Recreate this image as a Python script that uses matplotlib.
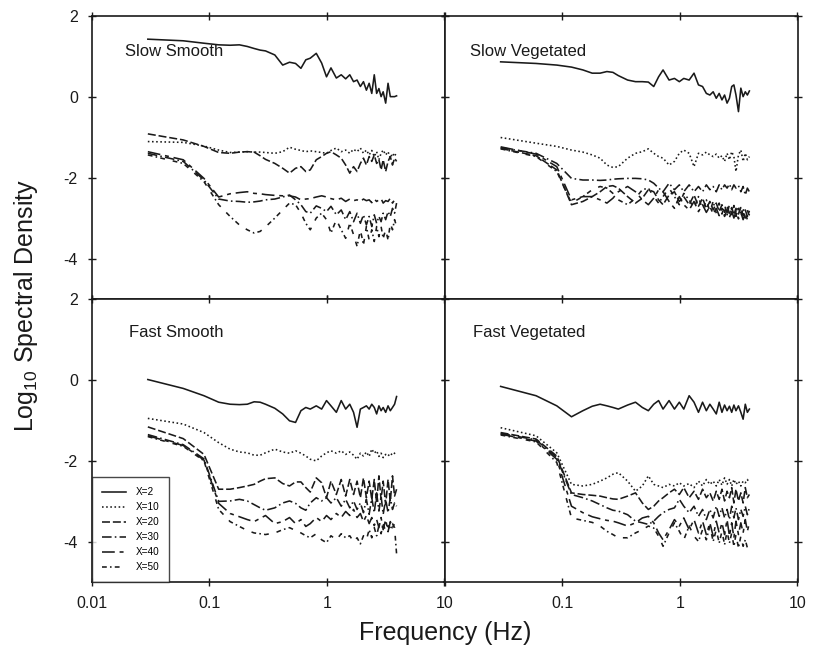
import numpy as np
import matplotlib
matplotlib.use("Agg")
from matplotlib import pyplot as plt

plt.rcParams['font.family'] = ['Liberation Sans', 'DejaVu Sans']
plt.rcParams['mathtext.fontset'] = 'custom'
plt.rcParams['mathtext.rm'] = 'Liberation Sans'

# frequencies (Hz) where the spectra were read
freq = [0.03, 0.06, 0.09, 0.12, 0.15, 0.18, 0.21, 0.24, 0.27, 0.30,
        0.36, 0.42, 0.48, 0.54, 0.60, 0.66, 0.72, 0.81, 0.90, 0.99,
        1.08, 1.20, 1.32, 1.44, 1.56, 1.68, 1.80, 1.92, 2.04, 2.16,
        2.28, 2.40, 2.52, 2.64, 2.76, 2.88, 3.00, 3.15, 3.30, 3.45,
        3.60, 3.75, 3.90]

labels = ["X=2", "X=10", "X=20", "X=30", "X=40", "X=50"]
titles = ["Slow Smooth", "Slow Vegetated", "Fast Smooth", "Fast Vegetated"]

# ---- Slow Smooth ----
ss_x2 = [1.42, 1.38, 1.32, 1.28, 1.27, 1.28, 1.24, 1.19, 1.15, 1.13,
         1.03, 0.78, 0.85, 0.82, 0.70, 0.91, 0.95, 1.07, 0.83, 0.49,
         0.71, 0.46, 0.54, 0.44, 0.54, 0.37, 0.41, 0.25, 0.37, 0.16,
         0.33, 0.08, 0.54, 0.08, 0.20, 0.00, 0.12, -0.16, 0.33, 0.00,
         0.00, 0.00, 0.02]
ss_x10 = [-1.11, -1.13, -1.22, -1.32, -1.38, -1.37, -1.36, -1.37, -1.37, -1.38,
          -1.40, -1.36, -1.25, -1.30, -1.33, -1.36, -1.34, -1.36, -1.38, -1.40,
          -1.33, -1.27, -1.36, -1.32, -1.40, -1.30, -1.36, -1.27, -1.40, -1.32,
          -1.44, -1.33, -1.48, -1.36, -1.56, -1.40, -1.32, -1.44, -1.36, -1.52,
          -1.40, -1.48, -1.36]
ss_x20 = [-0.92, -1.07, -1.23, -1.38, -1.40, -1.37, -1.36, -1.37, -1.46, -1.55,
          -1.65, -1.77, -1.89, -1.77, -1.73, -1.85, -1.81, -1.56, -1.48, -1.40,
          -1.36, -1.44, -1.52, -1.69, -1.89, -1.73, -1.85, -1.65, -1.52, -1.69,
          -1.48, -1.60, -1.44, -1.65, -1.56, -1.81, -1.56, -1.85, -1.60, -1.48,
          -1.69, -1.52, -1.60]
ss_x30 = [-1.40, -1.60, -2.06, -2.53, -2.58, -2.59, -2.61, -2.60, -2.58, -2.55,
          -2.53, -2.48, -2.43, -2.55, -2.67, -2.84, -2.88, -2.70, -2.76, -2.84,
          -2.71, -2.92, -2.80, -3.04, -2.84, -3.09, -2.88, -3.13, -2.92, -3.17,
          -2.96, -3.21, -2.92, -3.13, -2.96, -3.09, -2.88, -3.04, -2.84, -2.96,
          -2.76, -2.88, -2.63]
ss_x40 = [-1.36, -1.56, -2.02, -2.48, -2.40, -2.37, -2.35, -2.39, -2.40, -2.42,
          -2.44, -2.45, -2.45, -2.48, -2.55, -2.53, -2.52, -2.48, -2.45, -2.48,
          -2.52, -2.55, -2.51, -2.59, -2.53, -2.57, -2.55, -2.59, -2.53, -2.57,
          -2.55, -2.62, -2.53, -2.59, -2.55, -2.52, -2.63, -2.57, -2.59, -2.51,
          -2.63, -2.55, -2.57]
ss_x50 = [-1.44, -1.65, -2.10, -2.67, -2.96, -3.17, -3.29, -3.37, -3.33, -3.22,
          -3.00, -2.80, -2.63, -2.67, -2.88, -3.13, -3.29, -3.00, -2.88, -3.04,
          -3.37, -3.04, -3.29, -3.50, -3.13, -3.41, -3.70, -3.29, -3.66, -3.21,
          -3.54, -3.29, -3.58, -3.21, -3.46, -3.21, -3.50, -3.29, -3.54, -3.13,
          -3.29, -3.04, -3.21]

# ---- Slow Vegetated ----
sv_x2 = [0.86, 0.82, 0.78, 0.73, 0.66, 0.58, 0.58, 0.62, 0.60, 0.52,
         0.41, 0.37, 0.37, 0.36, 0.25, 0.49, 0.66, 0.41, 0.45, 0.37,
         0.45, 0.41, 0.58, 0.29, 0.25, 0.08, 0.04, 0.12, -0.04, 0.08,
         -0.08, 0.04, -0.16, -0.04, 0.25, 0.29, 0.04, -0.37, 0.21, 0.00,
         0.12, 0.04, 0.14]
sv_x10 = [-1.01, -1.15, -1.23, -1.32, -1.37, -1.44, -1.52, -1.69, -1.75, -1.73,
          -1.52, -1.40, -1.36, -1.29, -1.40, -1.48, -1.52, -1.69, -1.60, -1.40,
          -1.32, -1.40, -1.73, -1.40, -1.44, -1.37, -1.44, -1.48, -1.42, -1.52,
          -1.46, -1.60, -1.40, -1.56, -1.36, -1.48, -1.85, -1.44, -1.32, -1.60,
          -1.40, -1.56, -1.48]
sv_x20 = [-1.28, -1.46, -1.81, -2.67, -2.59, -2.47, -2.35, -2.22, -2.20, -2.26,
          -2.47, -2.63, -2.51, -2.30, -2.35, -2.55, -2.67, -2.43, -2.35, -2.59,
          -2.47, -2.67, -2.43, -2.71, -2.51, -2.76, -2.59, -2.80, -2.63, -2.84,
          -2.67, -2.86, -2.71, -2.88, -2.74, -2.92, -2.76, -2.90, -2.74, -2.94,
          -2.80, -2.96, -2.82]
sv_x30 = [-1.26, -1.40, -1.65, -2.02, -2.06, -2.06, -2.07, -2.06, -2.04, -2.03,
          -2.02, -2.02, -2.03, -2.06, -2.14, -2.26, -2.35, -2.14, -2.30, -2.18,
          -2.35, -2.18, -2.35, -2.22, -2.35, -2.18, -2.30, -2.22, -2.35, -2.18,
          -2.30, -2.18, -2.26, -2.16, -2.30, -2.18, -2.26, -2.20, -2.35, -2.22,
          -2.43, -2.26, -2.35]
sv_x40 = [-1.24, -1.42, -1.73, -2.55, -2.47, -2.47, -2.55, -2.63, -2.51, -2.35,
          -2.22, -2.35, -2.55, -2.67, -2.51, -2.30, -2.35, -2.59, -2.76, -2.47,
          -2.67, -2.80, -2.59, -2.84, -2.67, -2.86, -2.71, -2.90, -2.76, -2.94,
          -2.76, -2.96, -2.80, -2.99, -2.82, -3.00, -2.84, -3.02, -2.86, -3.04,
          -2.88, -3.04, -2.90]
sv_x50 = [-1.29, -1.48, -1.85, -2.63, -2.47, -2.30, -2.22, -2.26, -2.39, -2.55,
          -2.67, -2.51, -2.30, -2.26, -2.47, -2.63, -2.47, -2.26, -2.47, -2.67,
          -2.39, -2.55, -2.76, -2.47, -2.80, -2.55, -2.84, -2.59, -2.88, -2.63,
          -2.90, -2.67, -2.92, -2.66, -2.94, -2.69, -2.96, -2.71, -2.99, -2.76,
          -3.00, -2.80, -2.96]

# ---- Fast Smooth ----
fs_x2 = [0.01, -0.21, -0.39, -0.55, -0.60, -0.61, -0.60, -0.54, -0.55, -0.60,
         -0.70, -0.84, -1.01, -1.05, -0.76, -0.68, -0.72, -0.64, -0.72, -0.51,
         -0.64, -0.80, -0.51, -0.72, -0.60, -0.80, -1.17, -0.72, -0.68, -0.64,
         -0.72, -0.60, -0.68, -0.84, -0.64, -0.76, -0.68, -0.80, -0.64, -0.76,
         -0.68, -0.60, -0.41]
fs_x10 = [-0.95, -1.09, -1.30, -1.55, -1.71, -1.78, -1.80, -1.86, -1.86, -1.80,
          -1.71, -1.78, -1.81, -1.75, -1.81, -1.88, -1.96, -2.00, -1.88, -1.80,
          -1.75, -1.81, -1.75, -1.84, -1.78, -1.86, -1.96, -1.81, -1.88, -1.78,
          -1.89, -1.71, -1.81, -1.75, -1.89, -1.81, -1.92, -1.84, -1.88, -1.81,
          -1.86, -1.81, -1.78]
fs_x20 = [-1.16, -1.45, -1.84, -2.70, -2.70, -2.66, -2.62, -2.58, -2.50, -2.44,
          -2.42, -2.56, -2.62, -2.52, -2.52, -2.66, -2.77, -2.42, -2.54, -2.91,
          -2.50, -2.83, -2.46, -2.87, -2.46, -2.83, -2.50, -2.91, -2.42, -2.91,
          -2.50, -2.95, -2.46, -3.04, -2.37, -2.95, -2.50, -3.08, -2.46, -3.00,
          -2.37, -2.87, -2.70]
fs_x30 = [-1.35, -1.60, -1.95, -3.00, -2.99, -2.95, -2.99, -3.08, -3.16, -3.22,
          -3.16, -3.04, -2.99, -3.05, -3.16, -3.22, -3.04, -2.91, -2.99, -2.91,
          -3.04, -2.91, -3.12, -2.95, -3.16, -2.99, -3.20, -3.04, -3.28, -2.95,
          -3.32, -2.91, -3.28, -2.79, -3.24, -2.87, -3.32, -2.95, -3.28, -2.91,
          -3.20, -3.04, -3.12]
fs_x40 = [-1.38, -1.62, -1.98, -3.05, -3.30, -3.38, -3.45, -3.50, -3.42, -3.35,
          -3.55, -3.50, -3.40, -3.55, -3.45, -3.62, -3.55, -3.40, -3.50, -3.35,
          -3.45, -3.30, -3.40, -3.25, -3.35, -3.20, -3.40, -3.30, -3.50, -3.35,
          -3.55, -3.40, -3.60, -3.45, -3.65, -3.40, -3.70, -3.45, -3.75, -3.50,
          -3.65, -3.55, -3.60]
fs_x50 = [-1.40, -1.64, -2.00, -3.20, -3.50, -3.62, -3.72, -3.78, -3.80, -3.82,
          -3.78, -3.70, -3.65, -3.72, -3.78, -3.85, -3.90, -3.80, -3.95, -4.02,
          -3.85, -3.95, -3.80, -3.90, -3.85, -4.00, -3.90, -4.05, -3.85, -3.95,
          -3.70, -3.90, -3.65, -3.85, -3.60, -3.80, -3.55, -3.75, -3.60, -3.70,
          -3.55, -3.65, -4.30]

# ---- Fast Vegetated ----
fv_x2 = [-0.16, -0.39, -0.64, -0.91, -0.76, -0.65, -0.60, -0.64, -0.68, -0.72,
         -0.62, -0.55, -0.68, -0.76, -0.60, -0.51, -0.72, -0.51, -0.72, -0.55,
         -0.72, -0.39, -0.55, -0.80, -0.55, -0.76, -0.60, -0.72, -0.84, -0.55,
         -0.80, -0.62, -0.76, -0.65, -0.80, -0.62, -0.76, -0.64, -0.80, -0.97,
         -0.60, -0.80, -0.72]
fv_x10 = [-1.18, -1.38, -1.80, -2.58, -2.62, -2.58, -2.50, -2.42, -2.33, -2.29,
          -2.50, -2.75, -2.62, -2.37, -2.58, -2.62, -2.66, -2.58, -2.62, -2.54,
          -2.62, -2.56, -2.66, -2.50, -2.62, -2.46, -2.58, -2.50, -2.62, -2.46,
          -2.60, -2.42, -2.58, -2.46, -2.62, -2.46, -2.58, -2.50, -2.62, -2.50,
          -2.54, -2.46, -2.54]
fv_x20 = [-1.30, -1.46, -1.88, -2.79, -2.83, -2.85, -2.87, -2.91, -2.94, -2.95,
          -2.87, -2.79, -3.04, -3.20, -3.12, -2.99, -2.91, -2.79, -2.70, -2.83,
          -2.66, -2.91, -2.75, -2.95, -2.70, -2.91, -2.79, -2.99, -2.75, -2.95,
          -2.70, -2.99, -2.75, -2.91, -2.66, -3.04, -2.70, -2.99, -2.79, -3.04,
          -2.66, -2.91, -2.83]
fv_x30 = [-1.32, -1.48, -1.92, -2.83, -2.91, -2.99, -3.08, -3.16, -3.22, -3.24,
          -3.33, -3.49, -3.53, -3.57, -3.49, -3.37, -3.28, -3.20, -3.16, -2.95,
          -3.12, -3.28, -3.12, -3.37, -3.20, -3.45, -3.20, -3.41, -3.12, -3.37,
          -3.16, -3.41, -3.20, -3.45, -3.12, -3.41, -3.16, -3.45, -3.20, -3.37,
          -3.12, -3.33, -3.16]
fv_x40 = [-1.34, -1.51, -1.96, -3.12, -3.28, -3.38, -3.43, -3.47, -3.49, -3.53,
          -3.61, -3.53, -3.41, -3.37, -3.53, -3.78, -3.95, -3.70, -3.45, -3.61,
          -3.41, -3.70, -3.45, -3.78, -3.49, -3.82, -3.53, -3.86, -3.49, -3.78,
          -3.53, -3.82, -3.45, -3.86, -3.53, -3.90, -3.49, -3.82, -3.53, -3.78,
          -3.45, -3.74, -3.53]
fv_x50 = [-1.36, -1.53, -2.04, -3.41, -3.47, -3.52, -3.61, -3.74, -3.82, -3.90,
          -3.90, -3.78, -3.70, -3.61, -3.66, -3.86, -4.11, -3.78, -3.53, -3.74,
          -3.95, -3.61, -3.86, -3.99, -3.70, -3.95, -3.61, -3.99, -3.70, -4.03,
          -3.74, -4.07, -3.74, -4.03, -3.78, -4.11, -3.82, -4.15, -3.86, -4.11,
          -3.95, -4.15, -3.99]

panels = [
    [ss_x2, ss_x10, ss_x20, ss_x30, ss_x40, ss_x50],
    [sv_x2, sv_x10, sv_x20, sv_x30, sv_x40, sv_x50],
    [fs_x2, fs_x10, fs_x20, fs_x30, fs_x40, fs_x50],
    [fv_x2, fv_x10, fv_x20, fv_x30, fv_x40, fv_x50],
]

styles = ['-', (0, (1, 1.6)), (0, (5, 1.8)), (0, (6, 2, 1, 2)),
          (0, (8, 3, 2.5, 3)), (0, (3, 2, 1, 2, 3, 5))]
ink = '#1a1a1a'

fig = plt.figure(figsize=(8.18, 6.48), dpi=100)
W, H = 818, 648
lefts = [91.7, 444.5, 91.7, 444.5]
tops = [15.7, 15.7, 299, 299]
pw, ph = 353, 283.3
title_pos = [(0.094, 0.875), (0.072, 0.872), (0.106, 0.88), (0.081, 0.88)]

axes = []
for i in range(4):
    ax = fig.add_axes([lefts[i] / W, 1 - (tops[i] + ph) / H, pw / W, ph / H])
    axes.append(ax)
    for j, y in enumerate(panels[i]):
        ax.plot(freq, y, linestyle=styles[j], color=ink, lw=1.15,
                label=labels[j])
    ax.set_xscale('log')
    ax.set_xlim(0.01, 10)
    ax.set_ylim(-5, 2)
    ax.set_xticks([0.01, 0.1, 1, 10])
    ax.minorticks_off()
    ax.set_yticks([-4, -2, 0, 2])
    ax.tick_params(direction='inout', length=6, width=1, top=True, right=True,
                   labelsize=11.5, colors=ink, pad=7)
    for s in ax.spines.values():
        s.set_linewidth(1.2)
        s.set_color(ink)
    tx, ty = title_pos[i]
    ax.text(tx, ty, titles[i], transform=ax.transAxes, fontsize=12,
            ha='left', va='center', color=ink)

    if i in (0, 2):
        ax.set_yticklabels(['-4', '-2', '0', '2'])
    else:
        ax.set_yticklabels([])
    if i == 2:
        ax.set_xticklabels(['0.01', '0.1', '1', '10'])
    elif i == 3:
        ax.set_xticklabels(['', '0.1', '1', '10'])
    else:
        ax.set_xticklabels([])

leg = axes[2].legend(loc='lower left', fontsize=7.2, frameon=True,
                     fancybox=False, borderaxespad=0, handlelength=2.4,
                     labelspacing=0.5, borderpad=1.0, handletextpad=1.0)
leg.get_frame().set_edgecolor(ink)
leg.get_frame().set_linewidth(1.0)

fig.text(445 / W, 1 - 633 / H, 'Frequency (Hz)', fontsize=18,
         ha='center', va='center', color=ink)
fig.text(26 / W, 1 - 305 / H, r'Log$_\mathregular{10}$ Spectral Density',
         fontsize=18, rotation=90, ha='center', va='center', color=ink)

fig.savefig('out.png', dpi=100)
